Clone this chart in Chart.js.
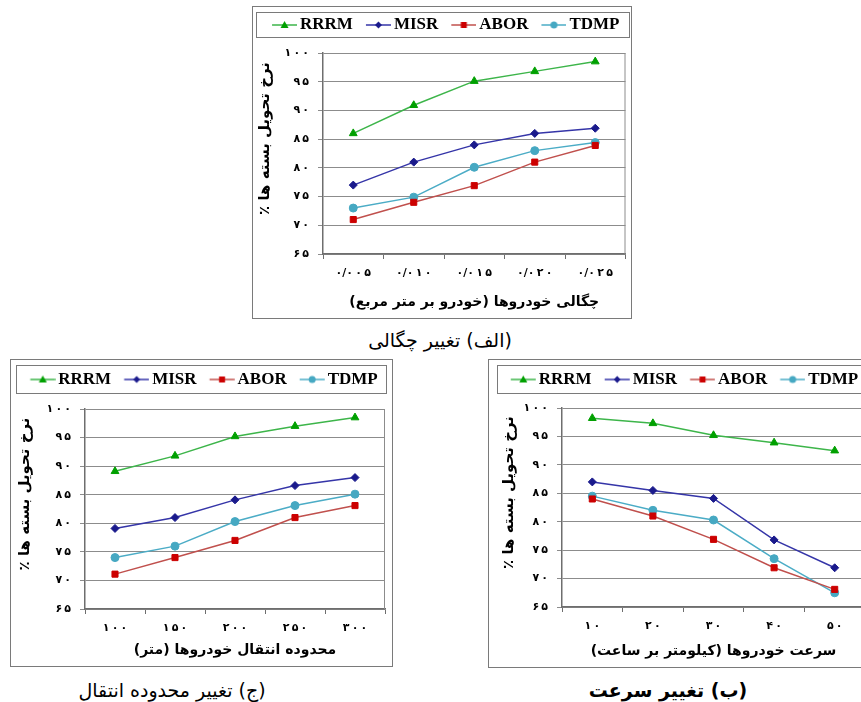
<!DOCTYPE html>
<html lang="fa">
<head>
<meta charset="utf-8">
<script src="https://cdn.jsdelivr.net/npm/chart.js@4.4.1/dist/chart.umd.min.js"></script>
<style>
  body { margin: 0; width: 861px; height: 702px; overflow: hidden; background: #fff; position: relative; }
  .box { position: absolute; border: 1px solid #7a7a7a; background: #fff; }
  .box canvas { display: block; }
  .cap { position: absolute; width: 300px; text-align: center; direction: rtl;
         font-family: "DejaVu Sans", sans-serif; font-size: 19px; line-height: 24px; color: #000; }
</style>
</head>
<body>
<div class="box" style="left:252px;top:6px;width:378px;height:311px"><canvas id="chartA" width="378" height="311"></canvas></div>
<div class="box" style="left:10px;top:359px;width:381px;height:306px"><canvas id="chartJ" width="381" height="306"></canvas></div>
<div class="box" style="left:488px;top:359px;width:382px;height:307px"><canvas id="chartB" width="382" height="307"></canvas></div>

<div class="cap" style="left:290px;top:328px">(الف) تغییر چگالی</div>
<div class="cap" style="left:22px;top:678px">(ج) تغییر محدوده انتقال</div>
<div class="cap" style="left:518px;top:678px;font-weight:bold">(ب) تغییر سرعت</div>

<script>
// series shared by all three panels
const seriesNames = ['RRRM', 'MISR', 'ABOR', 'TDMP'];

// (الف) vehicle density
const densityLabels = ['۰/۰۰۵', '۰/۰۱۰', '۰/۰۱۵', '۰/۰۲۰', '۰/۰۲۵'];
const densityRRRM = [86, 90.9, 95.1, 96.8, 98.5];
const densityMISR = [77, 81, 84, 86, 86.9];
const densityABOR = [71, 74, 76.9, 81, 83.9];
const densityTDMP = [73, 74.9, 80.1, 83, 84.4];

// (ج) transmission range
const rangeLabels = ['۱۰۰', '۱۵۰', '۲۰۰', '۲۵۰', '۳۰۰'];
const rangeRRRM = [89.1, 91.8, 95.2, 97, 98.5];
const rangeMISR = [79.1, 81, 84.1, 86.6, 88];
const rangeABOR = [71.1, 74, 77, 81, 83.1];
const rangeTDMP = [74, 76, 80.3, 83.1, 85.1];

// (ب) vehicle speed
const speedLabels = ['۱۰', '۲۰', '۳۰', '۴۰', '۵۰'];
const speedRRRM = [98.2, 97.3, 95.2, 93.9, 92.5];
const speedMISR = [87, 85.5, 84.1, 76.8, 71.9];
const speedABOR = [84, 81, 76.9, 71.9, 68.1];
const speedTDMP = [84.5, 82, 80.3, 73.5, 67.5];

const yTickValues = [65, 70, 75, 80, 85, 90, 95, 100];
const yTickLabels = ['۶۵', '۷۰', '۷۵', '۸۰', '۸۵', '۹۰', '۹۵', '۱۰۰'];

const yTitle = 'نرخ تحویل بسته ها ٪';
const densityTitle = 'چگالی خودروها (خودرو بر متر مربع)';
const rangeTitle = 'محدوده انتقال خودروها (متر)';
const speedTitle = 'سرعت خودروها (کیلومتر بر ساعت)';

const lineColors = ['#3db54a', '#3535a8', '#c0504d', '#4bacc6'];
const markerColors = ['#00a000', '#1a1a8c', '#cc0000', '#46a8c2'];
const markerStyles = ['triangle', 'rectRot', 'rect', 'circle'];
const markerRadius = [4.5, 4, 4.3, 4];

const RLM = '\u200F';
const rtl = s => RLM + s + RLM;
// thin space between neighbouring digits, like the wide-set digits of the original
const spaced = s => s.replace(/([۰-۹])(?=[۰-۹])/g, '$1\u2009');
const tickFont = { family: '"DejaVu Sans"', size: 11, weight: 'bold' };
const titleFont = { family: '"DejaVu Sans"', size: 14, weight: 'bold' };
const yTitleFont = { family: '"DejaVu Sans"', size: 15, weight: 'bold' };

// small line + marker picture used as legend symbol
function legendSymbol(i, W) {
  const c = document.createElement('canvas');
  const a = W / 2 - 19.5, b = W / 2 + 5.5;
  const half = Math.max(Math.abs(a), Math.abs(b));
  c.width = Math.ceil(half * 2);
  c.height = 12;
  const ctx = c.getContext('2d');
  const cx = c.width / 2, cy = 6;
  ctx.strokeStyle = lineColors[i];
  ctx.lineWidth = 1.5;
  ctx.beginPath();
  ctx.moveTo(cx + a, cy);
  ctx.lineTo(cx + b, cy);
  ctx.stroke();
  const mx = cx + (a + b) / 2;
  ctx.fillStyle = markerColors[i];
  ctx.beginPath();
  if (markerStyles[i] === 'triangle') {
    ctx.moveTo(mx, cy - 4); ctx.lineTo(mx + 4, cy + 3); ctx.lineTo(mx - 4, cy + 3);
  } else if (markerStyles[i] === 'rectRot') {
    ctx.moveTo(mx, cy - 3.5); ctx.lineTo(mx + 3.5, cy); ctx.lineTo(mx, cy + 3.5); ctx.lineTo(mx - 3.5, cy);
  } else if (markerStyles[i] === 'rect') {
    ctx.rect(mx - 3, cy - 3, 6, 6);
  } else {
    ctx.arc(mx, cy, 3.5, 0, Math.PI * 2);
  }
  ctx.closePath();
  ctx.fill();
  return c;
}

function makeChart(id, labels, values, xTitle, cfg) {
  const symbols = seriesNames.map((n, i) => legendSymbol(i, cfg.W));

  const frame = {
    id: 'frame',
    beforeInit(chart) {
      const fit = chart.legend.fit;
      chart.legend.fit = function () {
        fit.call(this);
        this.height = cfg.legendTotal;
      };
    },
    afterDraw(chart) {
      const { ctx, legend, chartArea } = chart;
      ctx.save();
      ctx.strokeStyle = '#7a7a7a';
      ctx.lineWidth = 1;
      ctx.strokeRect(legend.left + 0.5, legend.top + 0.5, legend.width + cfg.legendExtra - 1, cfg.legendBox - 1);
      ctx.strokeStyle = '#8c8c8c';
      ctx.beginPath();
      ctx.moveTo(chartArea.right - 0.5, chartArea.top);
      ctx.lineTo(chartArea.right - 0.5, chartArea.bottom);
      ctx.stroke();
      ctx.restore();
    }
  };

  return new Chart(document.getElementById(id), {
    type: 'line',
    data: {
      labels: labels.map(spaced),
      datasets: seriesNames.map((name, i) => ({
        label: name,
        data: values[i],
        borderColor: lineColors[i],
        backgroundColor: markerColors[i],
        pointBackgroundColor: markerColors[i],
        pointBorderColor: markerColors[i],
        pointBorderWidth: 1,
        pointStyle: markerStyles[i],
        pointRadius: markerRadius[i],
        borderWidth: 1.5,
        tension: 0,
        fill: false
      }))
    },
    options: {
      responsive: false,
      animation: false,
      layout: { padding: cfg.padding },
      plugins: {
        tooltip: { enabled: false },
        legend: {
          position: 'top',
          labels: {
            usePointStyle: true,
            pointStyleWidth: cfg.W,
            padding: cfg.p,
            color: '#000',
            font: { family: '"Liberation Serif"', size: 17, weight: 'bold' },
            generateLabels(chart) {
              const items = Chart.defaults.plugins.legend.labels.generateLabels(chart);
              items.forEach((it, i) => { it.pointStyle = symbols[i]; it.fontColor = '#000'; });
              return items;
            }
          }
        }
      },
      scales: {
        x: {
          offset: true,
          grid: { drawOnChartArea: false, drawTicks: true, tickLength: 5, offset: true, color: '#6e6e6e' },
          border: { color: '#6e6e6e', width: 1.5 },
          ticks: { padding: 8, maxRotation: 0, color: '#000', font: tickFont },
          title: { display: true, text: rtl(xTitle), color: '#000', font: titleFont, padding: { top: 0, bottom: 4 } },
          afterFit(s) { s.height = cfg.xHeight; }
        },
        y: {
          min: 65,
          max: 100,
          grid: { color: '#8c8c8c', tickLength: 5 },
          border: { color: '#6e6e6e', width: 1.5 },
          ticks: {
            stepSize: 5,
            padding: 9,
            color: '#000',
            font: tickFont,
            callback: v => spaced(yTickLabels[yTickValues.indexOf(v)] || '')
          },
          title: { display: true, text: '\u2003\u2003' + rtl(yTitle), color: '#000', font: yTitleFont,
                   padding: { top: cfg.yTitlePad, bottom: 0 } },
          afterFit(s) { s.width = cfg.yWidth; }
        }
      }
    },
    plugins: [frame]
  });
}

makeChart('chartA', densityLabels, [densityRRRM, densityMISR, densityABOR, densityTDMP], densityTitle,
  { padding: { top: 5, left: 3, right: 4, bottom: 3 }, legendTotal: 41, legendBox: 26, legendExtra: 3,
    p: 4.5, W: 28, yWidth: 67, xHeight: 61, yTitlePad: 0 });

makeChart('chartJ', rangeLabels, [rangeRRRM, rangeMISR, rangeABOR, rangeTDMP], rangeTitle,
  { padding: { top: 5, left: 5, right: 7, bottom: 3 }, legendTotal: 44, legendBox: 29, legendExtra: 2,
    p: 6, W: 26.5, yWidth: 69, xHeight: 54, yTitlePad: 0 });

makeChart('chartB', speedLabels, [speedRRRM, speedMISR, speedABOR, speedTDMP], speedTitle,
  { padding: { top: 5, left: 8, right: 6, bottom: 3 }, legendTotal: 43, legendBox: 29, legendExtra: 2,
    p: 6, W: 26.5, yWidth: 65, xHeight: 57, yTitlePad: 3 });
</script>
</body>
</html>
